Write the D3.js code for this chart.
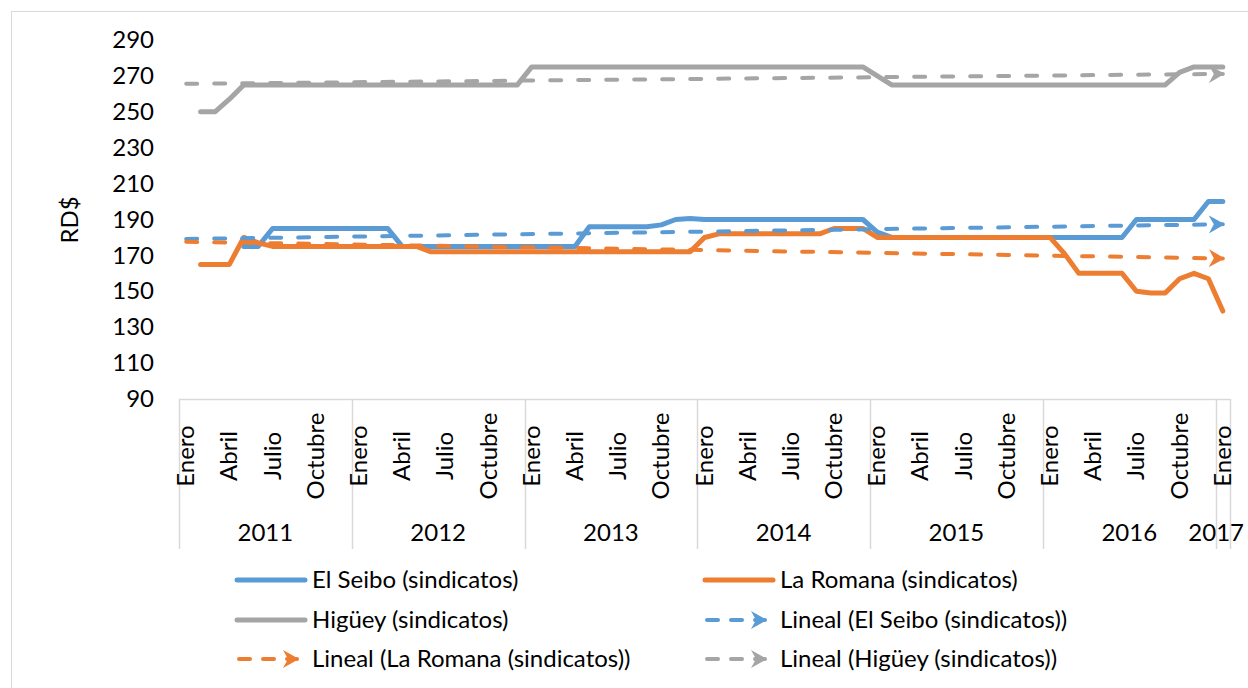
<!DOCTYPE html>
<html>
<head>
<meta charset="utf-8">
<script src="https://cdn.jsdelivr.net/npm/d3@7"></script>
<style>
  body { margin: 0; background: #fff; }
  text { font-family: Lato, "Noto Sans", sans-serif; fill: #000; }
</style>
</head>
<body>
<div id="chart"></div>
<script>
// categories: monthly, Enero 2011 .. Enero 2017
var years = [2011, 2012, 2013, 2014, 2015, 2016, 2017];
var monthNames = ["Enero", "Febrero", "Marzo", "Abril", "Mayo", "Junio", "Julio",
                  "Agosto", "Septiembre", "Octubre", "Noviembre", "Diciembre"];
var shownMonths = ["Enero", "Abril", "Julio", "Octubre"];
var yTicks = [90, 110, 130, 150, 170, 190, 210, 230, 250, 270, 290];

// series values (RD$), one per month, null = no data
var elSeibo = [null, null, null, null, 175, 175,
  185, 185, 185, 185, 185, 185, 185, 185, 185,
  175, 175, 175, 175, 175, 175, 175, 175, 175, 175, 175, 175, 175,
  186, 186, 186, 186, 186, 187, 190, 190.5,
  190, 190, 190, 190, 190, 190, 190, 190, 190, 190, 190, 190,
  183,
  180, 180, 180, 180, 180, 180, 180, 180, 180, 180, 180, 180, 180, 180, 180, 180, 180,
  190, 190, 190, 190, 190, 200, 200];

var laRomana = [null, 165, 165, 165, 180, 177,
  175, 175, 175, 175, 175, 175, 175, 175, 175, 175, 175,
  172, 172, 172, 172, 172, 172, 172, 172, 172, 172, 172, 172, 172, 172, 172, 172, 172, 172, 172,
  180, 182, 182, 182, 182, 182, 182, 182, 182, 185, 185, 185,
  180, 180, 180, 180, 180, 180, 180, 180, 180, 180, 180, 180, 180,
  171, 160, 160, 160, 160, 150, 149, 149, 157, 160, 157, 139];

var higuey = [null, 250, 250, 257,
  265, 265, 265, 265, 265, 265, 265, 265, 265, 265, 265, 265, 265, 265, 265, 265, 265, 265, 265, 265,
  275, 275, 275, 275, 275, 275, 275, 275, 275, 275, 275, 275, 275, 275, 275, 275, 275, 275, 275, 275, 275, 275, 275, 275,
  270,
  265, 265, 265, 265, 265, 265, 265, 265, 265, 265, 265, 265, 265, 265, 265, 265, 265, 265, 265, 265,
  272, 275, 275, 275];

var seriesNames = ["El Seibo (sindicatos)", "La Romana (sindicatos)", "Higüey (sindicatos)"];
var seriesColors = ["#5B9BD5", "#ED7D31", "#A5A5A5"];

// build the category list
var categories = [];
years.forEach(function(y) {
  monthNames.forEach(function(m, mi) {
    if (y < 2017 || mi == 0) categories.push({ key: y + "-" + mi, year: y, month: m });
  });
});

var width = 1248, height = 688;
var fontSize = "24px";
var svg = d3.select("#chart").append("svg")
  .attr("width", width).attr("height", height);

// chart frame
svg.append("rect")
  .attr("x", 11.5).attr("y", 11.5)
  .attr("width", width).attr("height", height)
  .attr("fill", "none").attr("stroke", "#d9d9d9");

var x = d3.scaleBand()
  .domain(categories.map(function(d) { return d.key; }))
  .range([179, 1230]);
var y = d3.scaleLinear().domain([90, 290]).range([399, 40]);

function cx(i) { return x(categories[i].key) + x.bandwidth() / 2; }

// y axis labels (no line, no ticks)
var yAxis = d3.axisLeft(y).tickValues(yTicks).tickSize(0).tickPadding(0);
var gy = svg.append("g").attr("transform", "translate(154,0)").call(yAxis);
gy.select(".domain").remove();
gy.selectAll("text").style("font-size", fontSize).attr("fill", "#000");

svg.append("text")
  .attr("transform", "translate(78,220) rotate(-90)")
  .attr("text-anchor", "middle")
  .style("font-size", fontSize)
  .text("RD$");

// category axis: line, year separators, labels
var axisColor = "#d9d9d9";
svg.append("line")
  .attr("x1", 179).attr("x2", 1230)
  .attr("y1", 399.5).attr("y2", 399.5)
  .attr("stroke", axisColor).attr("stroke-width", 1.5);

var yearStarts = categories.filter(function(d) { return d.month == "Enero"; });
svg.selectAll("line.sep")
  .data(yearStarts.map(function(d) { return x(d.key); }).concat([x.range()[1]]))
  .enter().append("line")
  .attr("class", "sep")
  .attr("x1", function(d) { return Math.round(d) + 0.5; })
  .attr("x2", function(d) { return Math.round(d) + 0.5; })
  .attr("y1", 399).attr("y2", 549)
  .attr("stroke", axisColor).attr("stroke-width", 1.5);

svg.selectAll("text.month")
  .data(categories.filter(function(d) { return shownMonths.indexOf(d.month) >= 0; }))
  .enter().append("text")
  .attr("class", "month")
  .attr("transform", function(d) {
    return "translate(" + (x(d.key) + x.bandwidth() / 2 + 8) + ",456) rotate(-90)";
  })
  .attr("text-anchor", "middle")
  .style("font-size", fontSize)
  .text(function(d) { return d.month; });

svg.selectAll("text.year")
  .data(years)
  .enter().append("text")
  .attr("class", "year")
  .attr("y", 541)
  .attr("text-anchor", "middle")
  .style("font-size", fontSize)
  .text(function(d) { return d; })
  .attr("x", function(yr) {
    var cs = categories.filter(function(d) { return d.year == yr; });
    var a = x(cs[0].key), b = x(cs[cs.length - 1].key) + x.bandwidth();
    var half = this.getComputedTextLength() / 2;
    // keep the last (narrow) year label inside the picture
    return Math.min((a + b) / 2, width - 4 - half);
  });

// series lines
var allSeries = [elSeibo, laRomana, higuey];
var line = d3.line()
  .defined(function(d) { return d != null; })
  .x(function(d, i) { return cx(i); })
  .y(function(d) { return y(d); });

allSeries.forEach(function(s, k) {
  svg.append("path")
    .datum(s)
    .attr("d", line)
    .attr("fill", "none")
    .attr("stroke", seriesColors[k])
    .attr("stroke-width", 5)
    .attr("stroke-linejoin", "round")
    .attr("stroke-linecap", "round");
});

// arrow markers for trend lines
var defs = svg.append("defs");
seriesColors.forEach(function(c, k) {
  defs.append("marker")
    .attr("id", "arrow" + k)
    .attr("markerUnits", "userSpaceOnUse")
    .attr("viewBox", "0 -9 16 18")
    .attr("refX", 14).attr("refY", 0)
    .attr("markerWidth", 16).attr("markerHeight", 18)
    .attr("orient", "auto")
    .append("path")
    .attr("d", "M0,-9L16,0L0,9L5,0Z")
    .attr("fill", c);
});

// linear trend lines (least squares on category index)
function linFit(s) {
  var pts = [];
  s.forEach(function(v, i) { if (v != null) pts.push([i + 1, v]); });
  var mx = d3.mean(pts, function(p) { return p[0]; });
  var my = d3.mean(pts, function(p) { return p[1]; });
  var sxy = d3.sum(pts, function(p) { return (p[0] - mx) * (p[1] - my); });
  var sxx = d3.sum(pts, function(p) { return (p[0] - mx) * (p[0] - mx); });
  var b = sxy / sxx, a = my - b * mx;
  return function(t) { return a + b * t; };
}

allSeries.forEach(function(s, k) {
  var f = linFit(s);
  var n = categories.length;
  svg.append("path")
    .datum([0, n - 1])
    .attr("d", d3.line()
      .x(function(i) { return cx(i); })
      .y(function(i) { return y(f(i + 1)); }))
    .attr("fill", "none")
    .attr("stroke", seriesColors[k])
    .attr("stroke-width", 4)
    .attr("stroke-dasharray", "11,17")
    .attr("stroke-linecap", "round")
    .attr("marker-end", "url(#arrow" + k + ")");
});

// legend
var legendItems = [
  { name: seriesNames[0], color: 0, trend: false },
  { name: seriesNames[1], color: 1, trend: false },
  { name: seriesNames[2], color: 2, trend: false },
  { name: "Lineal (" + seriesNames[0] + ")", color: 0, trend: true },
  { name: "Lineal (" + seriesNames[1] + ")", color: 1, trend: true },
  { name: "Lineal (" + seriesNames[2] + ")", color: 2, trend: true }
];
var legendCols = [237, 705], legendRows = [580, 620, 659];

var lg = svg.selectAll("g.legend")
  .data(legendItems)
  .enter().append("g")
  .attr("class", "legend")
  .attr("transform", function(d, i) {
    return "translate(" + legendCols[i % 2] + "," + legendRows[Math.floor(i / 2)] + ")";
  });

lg.append("path")
  .attr("d", function(d) { return d.trend ? "M2,0L60,0" : "M0,0L68,0"; })
  .attr("fill", "none")
  .attr("stroke", function(d) { return seriesColors[d.color]; })
  .attr("stroke-width", function(d) { return d.trend ? 4 : 5; })
  .attr("stroke-dasharray", function(d) { return d.trend ? "11,13" : null; })
  .attr("stroke-linecap", "round")
  .attr("marker-end", function(d) { return d.trend ? "url(#arrow" + d.color + ")" : null; });

lg.append("text")
  .attr("x", 75)
  .attr("y", 8)
  .style("font-size", fontSize)
  .text(function(d) { return d.name; });
</script>
</body>
</html>
